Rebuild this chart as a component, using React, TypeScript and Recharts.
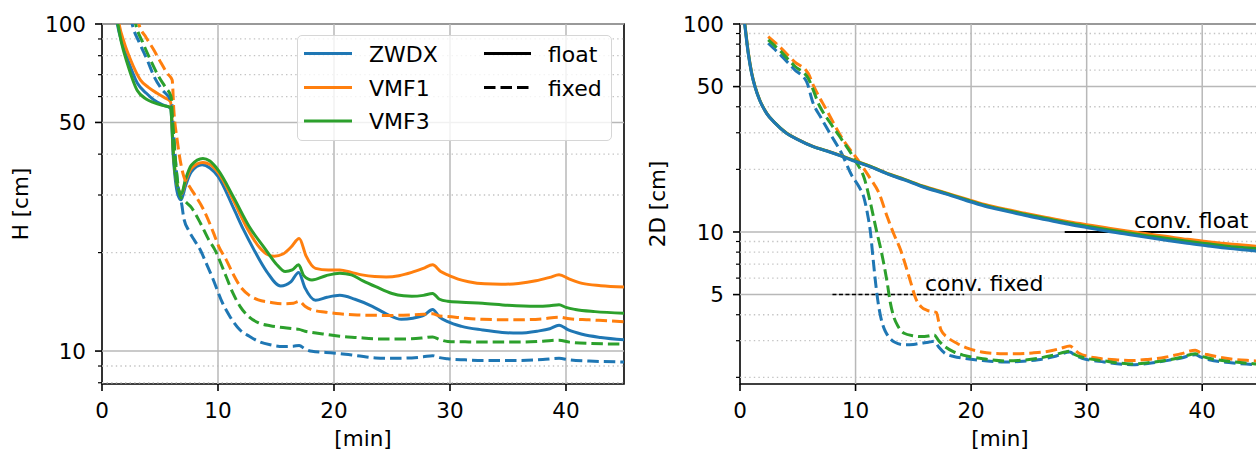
import React from "react";
import { LineChart, Line, XAxis, YAxis, ReferenceLine, ReferenceArea, ReferenceDot } from "recharts";

const FONT = "'DejaVu Sans', 'Liberation Sans', sans-serif";
const COLORS = {
  zwdx: "#1f77b4",
  vmf1: "#ff7f0e",
  vmf3: "#2ca02c",
  gridMajor: "#b8b8b8",
  gridMinor: "#c4c4c4",
  axis: "#000",
};
const DASH = "11.5 5";

// ── shared x axis ──
const MIN_DOMAIN = [0, 45];
const MIN_TICKS = [0, 10, 20, 30, 40];

// ── H [cm] panel ──
const H_DOMAIN = [7.93, 100];
const H_MAJOR = [10, 50, 100];
const H_MINOR = [8, 9, 20, 30, 40, 60, 70, 80, 90];

const H_ZWDX_FLOAT = [
  [1.2, 106], [1.32, 100], [1.7, 88], [2.18, 78.5], [3.04, 66], [3.8, 61.5], [4.47, 58.6], [5.3, 56.5], [5.9, 55.3],
  [6.02, 50], [6.1, 42], [6.3, 34], [6.55, 30], [6.82, 29.0], [7.2, 32], [7.7, 35.3], [8.63, 37.1], [9.3, 36.3],
  [10.0, 34.2], [11.35, 27.3], [12.2, 23.5], [13.07, 20.5], [14.2, 17.5], [15.4, 15.8], [16.3, 16.3], [16.95, 17.4],
  [17.5, 15.6], [18.4, 14.3], [19.4, 14.6], [20.5, 14.8], [21.8, 14.4], [23.3, 13.7], [24.5, 13.0], [25.8, 12.5],
  [26.8, 12.6], [27.8, 12.9], [28.5, 13.4], [29.1, 12.7], [29.8, 12.3], [31.0, 11.9], [32.8, 11.6], [34.5, 11.4],
  [35.9, 11.35], [37.5, 11.5], [38.6, 11.7], [39.4, 12.0], [40.2, 11.6], [41.4, 11.25], [43.0, 11.0], [45, 10.82],
];
const H_VMF1_FLOAT = [
  [1.35, 106], [1.47, 100], [1.9, 88], [2.47, 77.6], [3.32, 67.4], [4.0, 64], [4.76, 61.4], [5.4, 59.5], [5.9, 57.9],
  [6.02, 52], [6.1, 44], [6.3, 35.5], [6.55, 31.5], [6.85, 30.2], [7.2, 33], [7.7, 36.2], [8.7, 37.7], [9.3, 37.2],
  [10.0, 35.2], [11.35, 28.8], [12.5, 23.8], [13.6, 20.7], [14.3, 19.7], [14.85, 19.5], [15.6, 19.8], [16.3, 20.8],
  [17.0, 22.1], [17.6, 19.5], [18.4, 17.9], [19.5, 17.7], [20.5, 17.7], [21.5, 17.4], [22.4, 17.1], [23.5, 16.9],
  [24.5, 16.85], [25.6, 17.0], [26.7, 17.4], [27.7, 17.9], [28.5, 18.35], [29.2, 17.5], [29.8, 17.1], [30.7, 16.6],
  [31.6, 16.3], [33.0, 16.05], [34.4, 16.0], [35.9, 16.1], [37.4, 16.4], [38.6, 16.8], [39.4, 17.1], [40.3, 16.6],
  [41.4, 16.1], [43.0, 15.85], [45, 15.7],
];
const H_VMF3_FLOAT = [
  [1.25, 106], [1.37, 100], [1.7, 87], [2.18, 75.8], [3.04, 62.6], [3.8, 59], [4.47, 57.5], [5.2, 56.4], [5.9, 55.6],
  [6.02, 50], [6.1, 43], [6.3, 35], [6.55, 31.5], [6.85, 30.3], [7.2, 33.5], [7.7, 37], [8.7, 38.8], [9.3, 38.1],
  [10.0, 35.8], [11.35, 29.5], [12.7, 24.0], [14.08, 20.5], [15.0, 18.5], [15.8, 17.5], [16.4, 17.7], [16.95, 18.35],
  [17.4, 17.0], [18.1, 16.5], [19.3, 17.0], [20.5, 17.3], [21.5, 17.1], [22.5, 16.4], [23.6, 15.74], [25.0, 15.0],
  [26.0, 14.75], [26.7, 14.7], [27.7, 14.8], [28.5, 15.0], [29.1, 14.4], [29.8, 14.2], [31.0, 14.1], [32.8, 14.0],
  [35.0, 13.8], [37.4, 13.7], [38.6, 13.75], [39.4, 13.85], [40.0, 13.6], [40.8, 13.4], [42.5, 13.2], [45, 13.06],
];
const H_ZWDX_FIXED = [
  [2.45, 106], [2.6, 100], [3.2, 88], [3.9, 77.6], [4.5, 69], [5.19, 62.9], [5.9, 58.6], [6.05, 56], [6.2, 45],
  [6.5, 33], [6.9, 27.7], [7.05, 25.5], [7.5, 23.3], [7.9, 22], [8.5, 20.3], [9.0, 18.5], [9.48, 16.9], [10.4, 14.0],
  [11.0, 12.8], [11.9, 11.6], [12.7, 11.1], [13.5, 10.7], [14.5, 10.45], [15.6, 10.33], [16.5, 10.35], [17.0, 10.4],
  [17.5, 10.15], [18.1, 9.98], [19.3, 9.9], [20.5, 9.82], [22, 9.68], [23.6, 9.53], [25, 9.5], [26.7, 9.53],
  [27.7, 9.6], [28.5, 9.68], [29.1, 9.55], [29.8, 9.47], [31.3, 9.4], [32.8, 9.36], [35.9, 9.36], [38.0, 9.42],
  [39.4, 9.5], [40.3, 9.4], [42.0, 9.32], [45, 9.26],
];
const H_VMF1_FIXED = [
  [3.05, 106], [3.18, 100], [3.8, 91], [4.47, 83.3], [5.0, 77], [5.62, 70.7], [6.05, 67.4], [6.19, 54.6], [6.48, 44.2],
  [7.05, 34.2], [7.5, 32], [7.91, 30.4], [8.77, 27.0], [9.63, 22.9], [10.06, 20.9], [10.71, 19.0], [11.3, 17.2],
  [11.93, 15.74], [12.7, 14.8], [13.47, 14.34], [14.5, 14.1], [15.6, 13.94], [16.5, 14.0], [17.0, 14.2], [17.5, 13.7],
  [18.1, 13.37], [19.3, 13.15], [20.5, 13.0], [22, 12.9], [23.6, 12.86], [25, 12.85], [26.7, 12.9], [27.7, 12.95],
  [28.5, 13.0], [29.1, 12.8], [29.8, 12.76], [31.3, 12.6], [32.8, 12.5], [35.9, 12.46], [38.0, 12.55], [39.4, 12.7],
  [40.3, 12.55], [42.0, 12.46], [45, 12.3],
];
const H_VMF3_FIXED = [
  [2.75, 106], [2.9, 100], [3.5, 88], [4.18, 77.6], [4.8, 70], [5.47, 64], [5.95, 60], [6.1, 50], [6.4, 36],
  [6.76, 29.7], [7.2, 28.6], [7.62, 27.7], [8.49, 24.6], [9.2, 21.9], [9.7, 20.5], [10.7, 16.9], [11.3, 15.0],
  [11.9, 13.7], [12.7, 12.7], [13.5, 12.2], [14.5, 11.95], [15.6, 11.8], [16.5, 11.7], [17.0, 11.65], [17.5, 11.5],
  [18.1, 11.4], [19.3, 11.25], [20.5, 11.1], [22, 11.0], [23.6, 10.9], [25, 10.88], [26.7, 10.9], [27.7, 10.97],
  [28.5, 11.05], [29.1, 10.85], [29.8, 10.7], [31.3, 10.67], [32.8, 10.65], [35.9, 10.65], [38.0, 10.72], [39.4, 10.8],
  [40.3, 10.65], [42.0, 10.55], [45, 10.5],
];

// ── 2D [cm] panel ──
const D_DOMAIN = [1.858, 100];
const D_MAJOR = [5, 10, 50, 100];
const D_MINOR = [2, 3, 4, 6, 7, 8, 9, 20, 30, 40, 60, 70, 80, 90];

const D_ZWDX_FLOAT = [
  [0.35, 106], [0.45, 95], [0.71, 72.3], [1.0, 58], [1.29, 50], [1.7, 43], [2.3, 37.2], [3.0, 33.5], [4.03, 29.8],
  [5.0, 27.8], [6.33, 25.7], [7.5, 24.5], [8.64, 23.3], [10.0, 21.8], [11.24, 20.6], [12.97, 18.8], [14.2, 17.8],
  [15.9, 16.4], [17.7, 15.3], [19.5, 14.2], [21.2, 13.3], [23.0, 12.6], [24.7, 12.0], [26.5, 11.45], [28.2, 10.95],
  [30.0, 10.5], [31.7, 10.1], [33.5, 9.75], [35.2, 9.43], [37.0, 9.1], [38.7, 8.82], [40.5, 8.57], [42.2, 8.34],
  [44.0, 8.17], [45, 8.08],
];
const D_VMF1_FLOAT = [
  [0.37, 106], [0.47, 95], [0.73, 72.3], [1.02, 58], [1.31, 50], [1.72, 43], [2.32, 37.2], [3.0, 33.6], [4.03, 29.9],
  [5.0, 27.9], [6.33, 25.8], [7.5, 24.6], [8.64, 23.4], [10.0, 21.95], [11.24, 20.75], [12.97, 18.95], [14.2, 17.95],
  [15.9, 16.6], [17.7, 15.5], [19.5, 14.45], [21.2, 13.55], [23.0, 12.85], [24.7, 12.3], [26.5, 11.75], [28.2, 11.27],
  [30.0, 10.85], [31.7, 10.47], [33.5, 10.1], [35.2, 9.8], [37.0, 9.5], [38.7, 9.22], [40.5, 8.98], [42.2, 8.77],
  [44.0, 8.6], [45, 8.52],
];
const D_VMF3_FLOAT = [
  [0.36, 106], [0.46, 95], [0.72, 72.3], [1.01, 58], [1.3, 50], [1.71, 43], [2.31, 37.2], [3.0, 33.55], [4.03, 29.85],
  [5.0, 27.85], [6.33, 25.75], [7.5, 24.55], [8.64, 23.35], [10.0, 21.9], [11.24, 20.7], [12.97, 18.9], [14.2, 17.9],
  [15.9, 16.5], [17.7, 15.4], [19.5, 14.33], [21.2, 13.43], [23.0, 12.73], [24.7, 12.15], [26.5, 11.6], [28.2, 11.1],
  [30.0, 10.67], [31.7, 10.28], [33.5, 9.92], [35.2, 9.6], [37.0, 9.3], [38.7, 9.02], [40.5, 8.77], [42.2, 8.55],
  [44.0, 8.38], [45, 8.3],
];
const D_ZWDX_FIXED = [
  [2.44, 80.8], [3.5, 71], [4.7, 60.5], [5.76, 52.8], [6.33, 41.6], [7.0, 35.5], [7.78, 29.8], [8.79, 23.9],
  [9.65, 18.8], [10.3, 16.5], [10.7, 14.8], [11.0, 12.5], [11.3, 9.84], [11.5, 7.6], [11.74, 5.66], [12.0, 4.4],
  [12.17, 3.92], [12.5, 3.4], [12.75, 3.2], [13.4, 2.95], [14.2, 2.87], [15.0, 2.88], [15.65, 2.92], [16.3, 2.95],
  [16.8, 2.98], [17.2, 2.8], [17.7, 2.62], [18.5, 2.52], [19.4, 2.47], [21, 2.41], [22.9, 2.37], [24.5, 2.39],
  [25.8, 2.43], [27.2, 2.52], [28.55, 2.65], [29.0, 2.55], [29.6, 2.47], [31.5, 2.37], [33.9, 2.3], [35.3, 2.33],
  [36.8, 2.4], [38.2, 2.48], [39.4, 2.57], [39.9, 2.5], [40.6, 2.43], [42.5, 2.35], [44.6, 2.3], [45, 2.29],
];
const D_VMF1_FIXED = [
  [2.44, 86.9], [3.5, 77], [4.7, 66], [5.9, 57.9], [6.4, 50], [7.49, 38.6], [8.93, 27.7], [10.2, 22.2], [11.3, 18.0],
  [12.0, 15.5], [12.75, 11.8], [13.3, 9.8], [13.9, 8.2], [14.3, 7.0], [14.8, 5.66], [15.2, 4.8], [15.65, 4.38],
  [16.2, 4.2], [16.7, 4.14], [17.0, 4.1], [17.2, 3.7], [17.4, 3.37], [18.0, 3.1], [18.8, 2.91], [19.8, 2.75],
  [20.9, 2.65], [22.5, 2.6], [23.8, 2.6], [25.3, 2.62], [26.7, 2.67], [27.7, 2.75], [28.55, 2.83], [29.0, 2.7],
  [29.3, 2.62], [31.0, 2.47], [32.5, 2.43], [33.9, 2.41], [35.3, 2.44], [36.8, 2.5], [38.2, 2.6], [39.4, 2.7],
  [39.9, 2.62], [40.6, 2.56], [42.5, 2.45], [44.6, 2.4], [45, 2.39],
];
const D_VMF3_FIXED = [
  [2.44, 83.8], [3.5, 74], [4.7, 63], [5.9, 54.8], [6.91, 40.1], [7.8, 33.5], [8.64, 28.7], [9.94, 22.2],
  [10.8, 17.8], [11.3, 13.7], [11.8, 10.2], [12.2, 8.2], [12.75, 5.66], [13.0, 4.6], [13.3, 3.92], [13.7, 3.5],
  [14.2, 3.26], [15.0, 3.17], [15.65, 3.14], [16.3, 3.16], [16.8, 3.2], [17.2, 3.0], [17.7, 2.82], [18.5, 2.65],
  [19.4, 2.55], [21, 2.46], [22.9, 2.4], [24.5, 2.42], [25.8, 2.47], [27.2, 2.56], [28.55, 2.67], [29.0, 2.57],
  [29.6, 2.5], [31.5, 2.4], [33.9, 2.32], [35.3, 2.35], [36.8, 2.41], [38.2, 2.5], [39.4, 2.6], [39.9, 2.53],
  [40.6, 2.47], [42.5, 2.38], [44.6, 2.32], [45, 2.31],
];

// convergence markers (2D panel)
const CONV_FLOAT = { y: 10, from: 28.1, to: 39.1, labelX: 34.1 };
const CONV_FIXED = { y: 5, from: 8.0, to: 19.4, labelX: 16.0 };

const toPoints = (arr: number[][]) => arr.map(([x, y]) => ({ x, y }));

const makeYTick = (major: number[]) => (props: any) => {
  const { x, y, payload } = props;
  const isMajor = major.includes(payload.value);
  return (
    <g>
      <line x1={x} x2={x - (isMajor ? 7 : 4)} y1={y} y2={y} stroke={COLORS.axis} strokeWidth={isMajor ? 1.6 : 1.2} />
      {isMajor && (
        <text x={x - 16} y={y + 7.8} textAnchor="end" fontSize={21.5} fontFamily={FONT} fill="#000">
          {payload.value}
        </text>
      )}
    </g>
  );
};

const XTick = (props: any) => {
  const { x, y, payload } = props;
  return (
    <g>
      <line x1={x} x2={x} y1={y} y2={y + 7} stroke={COLORS.axis} strokeWidth={1.6} />
      <text x={x} y={y + 34} textAnchor="middle" fontSize={21.5} fontFamily={FONT} fill="#000">
        {payload.value}
      </text>
    </g>
  );
};

const yLabel = (text: string, dx: number) => (props: any) => {
  const { x, y, height } = props.viewBox;
  const cx = x + dx;
  const cy = y + height / 2;
  return (
    <text x={cx} y={cy} transform={`rotate(-90 ${cx} ${cy})`} textAnchor="middle" fontSize={21.5} fontFamily={FONT} fill="#000">
      {text}
    </text>
  );
};

const xLabel = (props: any) => {
  const { x, y, width } = props.viewBox;
  return (
    <text x={x + width / 2} y={y + 61.5} textAnchor="middle" fontSize={21.5} fontFamily={FONT} fill="#000">
      [min]
    </text>
  );
};

const annot = (text: string) => (props: any) => {
  const { x, y } = props.viewBox;
  return (
    <text x={x} y={y - 4} fontSize={22} fontFamily={FONT} fill="#000">
      {text}
    </text>
  );
};

interface Series {
  name: string;
  color: string;
  dashed: boolean;
  data: number[][];
}

interface PanelProps {
  left: number;
  yAxisWidth: number;
  rightMargin: number;
  yDomain: number[];
  yMajor: number[];
  yMinor: number[];
  yTitle: string;
  yTitleX: number;
  series: Series[];
  conv?: boolean;
}

function Panel({ left, yAxisWidth, rightMargin, yDomain, yMajor, yMinor, yTitle, yTitleX, series, conv }: PanelProps) {
  return (
    <div style={{ position: "absolute", left, top: 0 }}>
      <LineChart width={640} height={450} margin={{ top: 24, right: rightMargin, bottom: 0, left: 0 }}>
        <XAxis
          type="number"
          dataKey="x"
          domain={MIN_DOMAIN}
          ticks={MIN_TICKS}
          allowDataOverflow
          interval={0}
          height={66}
          tickSize={0}
          tickMargin={0}
          axisLine={false}
          tickLine={false}
          tick={<XTick />}
          label={xLabel}
        />
        <YAxis
          type="number"
          dataKey="y"
          scale="log"
          domain={yDomain}
          ticks={[...yMajor, ...yMinor]}
          allowDataOverflow
          interval={0}
          width={yAxisWidth}
          tickSize={0}
          tickMargin={0}
          axisLine={false}
          tickLine={false}
          tick={makeYTick(yMajor)}
          label={yLabel(yTitle, yTitleX)}
        />
        {yMinor.map((v) => (
          <ReferenceLine key={`mn${v}`} y={v} stroke={COLORS.gridMinor} strokeWidth={1.3} strokeDasharray="1.4 3.2" />
        ))}
        {yMajor.map((v) => (
          <ReferenceLine key={`mj${v}`} y={v} stroke={COLORS.gridMajor} strokeWidth={1.5} />
        ))}
        {MIN_TICKS.filter((v) => v > 0).map((v) => (
          <ReferenceLine key={`vx${v}`} x={v} stroke={COLORS.gridMajor} strokeWidth={1.5} />
        ))}
        {conv && (
          <ReferenceLine
            segment={[{ x: CONV_FLOAT.from, y: CONV_FLOAT.y }, { x: CONV_FLOAT.to, y: CONV_FLOAT.y }]}
            stroke="#000"
            strokeWidth={2}
          />
        )}
        {conv && (
          <ReferenceLine
            segment={[{ x: CONV_FIXED.from, y: CONV_FIXED.y }, { x: CONV_FIXED.to, y: CONV_FIXED.y }]}
            stroke="#000"
            strokeWidth={1.5}
            strokeDasharray="4 2.5"
          />
        )}
        {series.map((s) => (
          <Line
            key={s.name}
            data={toPoints(s.data)}
            dataKey="y"
            type="monotone"
            stroke={s.color}
            strokeWidth={3}
            strokeDasharray={s.dashed ? DASH : undefined}
            dot={false}
            activeDot={false}
            isAnimationActive={false}
          />
        ))}
        {conv && <ReferenceDot x={CONV_FLOAT.labelX} y={CONV_FLOAT.y} r={0} fill="none" stroke="none" label={annot("conv. float")} />}
        {conv && <ReferenceDot x={CONV_FIXED.labelX} y={CONV_FIXED.y} r={0} fill="none" stroke="none" label={annot("conv. fixed")} />}
        <ReferenceArea x1={MIN_DOMAIN[0]} x2={MIN_DOMAIN[1]} y1={yDomain[0]} y2={yDomain[1]} fill="none" fillOpacity={0} stroke="#000" strokeWidth={1.6} ifOverflow="visible" />
      </LineChart>
    </div>
  );
}

function LegendBox() {
  const rows = [
    { label: "ZWDX", color: COLORS.zwdx },
    { label: "VMF1", color: COLORS.vmf1 },
    { label: "VMF3", color: COLORS.vmf3 },
  ];
  const styles = [
    { label: "float", dash: undefined },
    { label: "fixed", dash: DASH },
  ];
  const rowY = [18.5, 52.5, 86];
  return (
    <div
      style={{
        position: "absolute",
        left: 297,
        top: 35,
        width: 315,
        height: 106,
        border: "1.3px solid #d6d6d6",
        borderRadius: 5,
        background: "rgba(255,255,255,0.8)",
        boxSizing: "border-box",
      }}
    >
      <svg width={315} height={106} style={{ position: "absolute", left: -1.3, top: -1.3 }}>
        {rows.map((r, i) => (
          <g key={r.label}>
            <line x1={7} x2={55} y1={rowY[i]} y2={rowY[i]} stroke={r.color} strokeWidth={3} />
            <text x={72} y={rowY[i] + 8} fontSize={22} fontFamily={FONT} fill="#000">
              {r.label}
            </text>
          </g>
        ))}
        {styles.map((s, i) => (
          <g key={s.label}>
            <line x1={187} x2={234} y1={rowY[i]} y2={rowY[i]} stroke="#000" strokeWidth={3} strokeDasharray={s.dash} />
            <text x={251} y={rowY[i] + 8} fontSize={22} fontFamily={FONT} fill="#000">
              {s.label}
            </text>
          </g>
        ))}
      </svg>
    </div>
  );
}

const H_SERIES: Series[] = [
  { name: "zwdx-float", color: COLORS.zwdx, dashed: false, data: H_ZWDX_FLOAT },
  { name: "vmf1-float", color: COLORS.vmf1, dashed: false, data: H_VMF1_FLOAT },
  { name: "vmf3-float", color: COLORS.vmf3, dashed: false, data: H_VMF3_FLOAT },
  { name: "zwdx-fixed", color: COLORS.zwdx, dashed: true, data: H_ZWDX_FIXED },
  { name: "vmf1-fixed", color: COLORS.vmf1, dashed: true, data: H_VMF1_FIXED },
  { name: "vmf3-fixed", color: COLORS.vmf3, dashed: true, data: H_VMF3_FIXED },
];

const D_SERIES: Series[] = [
  { name: "zwdx-fixed", color: COLORS.zwdx, dashed: true, data: D_ZWDX_FIXED },
  { name: "vmf1-fixed", color: COLORS.vmf1, dashed: true, data: D_VMF1_FIXED },
  { name: "vmf3-fixed", color: COLORS.vmf3, dashed: true, data: D_VMF3_FIXED },
  { name: "vmf1-float", color: COLORS.vmf1, dashed: false, data: D_VMF1_FLOAT },
  { name: "vmf3-float", color: COLORS.vmf3, dashed: false, data: D_VMF3_FLOAT },
  { name: "zwdx-float", color: COLORS.zwdx, dashed: false, data: D_ZWDX_FLOAT },
];

export default function App() {
  return (
    <div style={{ position: "absolute", left: 0, top: 0, width: 1256, height: 450, overflow: "hidden", background: "#fff" }}>
      <Panel
        left={0}
        yAxisWidth={102}
        rightMargin={16}
        yDomain={H_DOMAIN}
        yMajor={H_MAJOR}
        yMinor={H_MINOR}
        yTitle="H [cm]"
        yTitleX={27.5}
        series={H_SERIES}
      />
      <LegendBox />
      <Panel
        left={640}
        yAxisWidth={100}
        rightMargin={20}
        yDomain={D_DOMAIN}
        yMajor={D_MAJOR}
        yMinor={D_MINOR}
        yTitle="2D [cm]"
        yTitleX={24.5}
        series={D_SERIES}
        conv
      />
    </div>
  );
}
